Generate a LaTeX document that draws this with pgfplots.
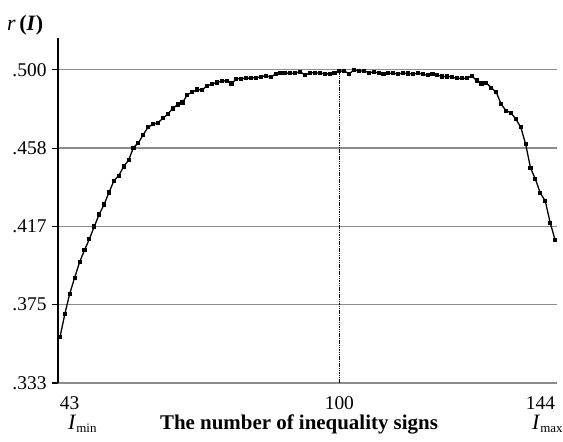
\documentclass[border=0pt]{standalone}
\usepackage{fontspec}
\setmainfont{Liberation Serif}
\usepackage{pgfplots}
\pgfplotsset{compat=1.18}
\definecolor{gridgray}{RGB}{140,140,140}
\begin{document}
\begin{tikzpicture}[x=1bp,y=1bp]
\useasboundingbox (0,0) rectangle (563,442);
\begin{axis}[
  at={(58bp,59bp)}, anchor=south west,
  scale only axis, width=499bp, height=345bp,
  xmin=42.6, xmax=144.4,
  ymin=0.333333, ymax=0.5169,
  axis lines*=left,
  x axis line style={draw=none},
  y axis line style={black, line width=1.3bp},
  xtick={43,100,144},
  xticklabels={\makebox[0pt][l]{43},100,\makebox[0pt][r]{144}},
  major x tick style={draw=none},
  ytick={0.333333,0.375,0.416667,0.458333,0.5},
  yticklabels={.333,.375,.417,.458,.500},
  tick align=outside,
  major tick length=6bp,
  major y tick style={black, line width=1.1bp},
  ymajorgrids,
  grid style={color=gridgray, line width=1.5bp},
  tick label style={font=\fontsize{19.5}{22}\selectfont},
  yticklabel style={xshift=-2bp},
  xticklabel style={yshift=-4bp},
  clip=false,
]
\addplot[black, line width=1bp, dash pattern=on 1.5bp off 0.8bp] coordinates {(100,0.333333) (100,0.4992)};
\addplot[black, line width=1.3bp, mark=square*, mark size=1.4bp, mark options={solid}] coordinates {
(43,0.3577) (44,0.3701) (45,0.3809) (46,0.3894) (47,0.3976) (48,0.4040)
(49,0.4099) (50,0.4166) (51,0.4230) (52,0.4283) (53,0.4347) (54,0.4409)
(55,0.4437) (56,0.4485) (57,0.4519) (58,0.4586) (59,0.4611) (60,0.4655)
(61,0.4695) (62,0.4709) (63,0.4719) (64,0.4741) (65,0.4764) (66,0.4794)
(67,0.4815) (68,0.4826) (69,0.4867) (70,0.4881) (71,0.4895) (72,0.4893)
(73,0.4914) (74,0.4923) (75,0.4932) (76,0.4939) (77,0.4942) (78,0.4927)
(79,0.4951) (80,0.4953) (81,0.4955) (82,0.4956) (83,0.4958) (84,0.4962)
(85,0.4969) (86,0.4960) (87,0.4978) (88,0.4981) (89,0.4983) (90,0.4981)
(91,0.4981) (92,0.4990) (93,0.4971) (94,0.4985) (95,0.4983) (96,0.4983)
(97,0.4978) (98,0.4978) (99,0.4985) (100,0.4992) (101,0.4994) (102,0.4978)
(103,0.5000) (104,0.4992) (105,0.4994) (106,0.4985) (107,0.4988) (108,0.4983)
(109,0.4978) (110,0.4981) (111,0.4981) (112,0.4978) (113,0.4982) (114,0.4980)
(115,0.4977) (116,0.4982) (117,0.4977) (118,0.4970) (119,0.4975) (120,0.4972)
(121,0.4964) (122,0.4964) (123,0.4961) (124,0.4954) (125,0.4954) (126,0.4954)
(127,0.4968) (128,0.4943) (129,0.4927) (130,0.4929) (131,0.4903) (132,0.4881)
(133,0.4817) (134,0.4782) (135,0.4771) (136,0.4737) (137,0.4695) (138,0.4604)
(139,0.4477) (140,0.4418) (141,0.4343) (142,0.4302) (143,0.4187) (144,0.4095)
};
\end{axis}
\node[anchor=base west, inner sep=0pt, font=\fontsize{22}{24}\selectfont] at (7,411) {\textit{r}\,\textbf{(\textit{I})}};
\node[anchor=base west, inner sep=0pt, font=\fontsize{22}{24}\selectfont] at (68,12) {\textit{I}\raisebox{-3bp}{\fontsize{13}{14}\selectfont min}};
\node[anchor=base west, inner sep=0pt, font=\fontsize{22}{24}\selectfont] at (532,12) {\textit{I}\raisebox{-3bp}{\fontsize{13}{14}\selectfont max}};
\node[anchor=base, inner sep=0pt, font=\fontsize{21}{24}\selectfont\bfseries] at (299,12) {The number of inequality signs};
\end{tikzpicture}
\end{document}
